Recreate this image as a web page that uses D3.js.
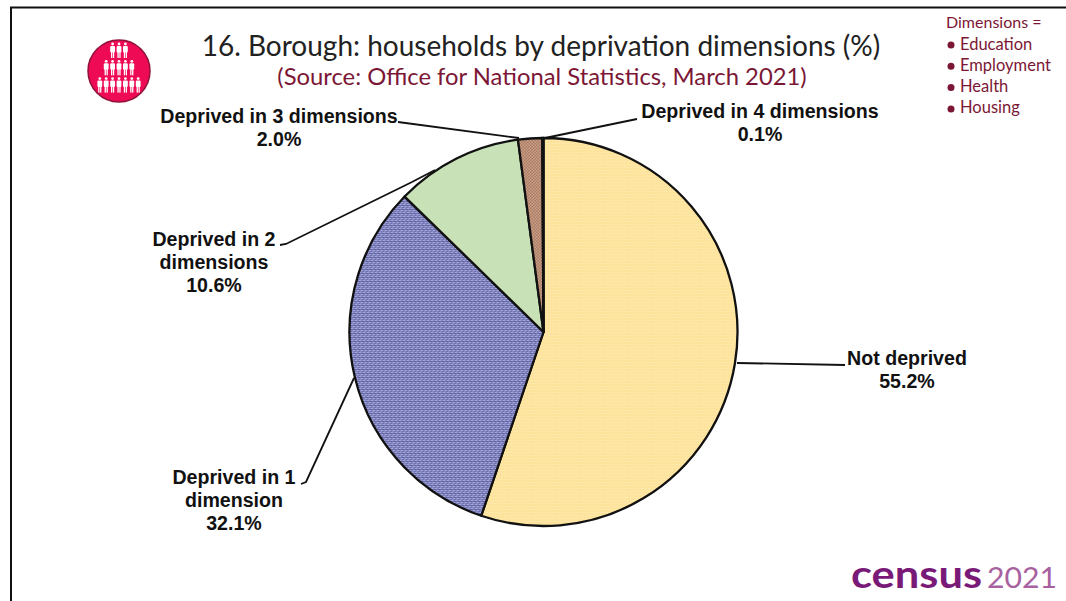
<!DOCTYPE html>
<html><head><meta charset="utf-8">
<script src="https://cdn.jsdelivr.net/npm/d3@7"></script>
<style>html,body{margin:0;padding:0;background:#fff}svg{display:block}</style></head>
<body><svg id="c" width="1066" height="601"></svg>
<script>
const categories=["Not deprived","Deprived in 1 dimension","Deprived in 2 dimensions","Deprived in 3 dimensions","Deprived in 4 dimensions"];
const values=[55.2,32.1,10.6,2.0,0.1];
const labelLines=[["Not deprived","55.2%"],["Deprived in 1","dimension","32.1%"],["Deprived in 2","dimensions","10.6%"],["Deprived in 3 dimensions","2.0%"],["Deprived in 4 dimensions","0.1%"]];
const labelX=[907,234,214,279,760];
const labelY=[364.5,484,246,122.5,117.5];
const leaders=[[[737,363],[845,365]],[[354,378],[306,482],[301,484]],[[435,170],[412,182],[286,244],[280,245]],[[519,138],[398,122]],[[545,138],[637,119]]];
const dimensions=["Education","Employment","Health","Housing"];
const iconRows=[3,5,7];
const wine="#7b1735";
const svg=d3.select("#c");
const defs=svg.append("defs");
function pat(id,bg,size,cells){
  const p=defs.append("pattern").attr("id",id).attr("width",size).attr("height",size).attr("patternUnits","userSpaceOnUse");
  p.append("rect").attr("width",size).attr("height",size).attr("fill",bg);
  cells.forEach(([x,y,w,c])=>p.append("rect").attr("x",x).attr("y",y).attr("width",w).attr("height",w).attr("fill",c));
}
pat("p0","#fee39c",3,[[0,0,1,"#fff0c4"]]);
pat("p1","#8487c0",4,[[0,0,1,"#c4c6ea"],[2,2,1,"#c4c6ea"],[1,1,1,"#5a5da3"],[3,3,1,"#5a5da3"],[3,1,1,"#3a3c88"]]);
pat("p2","#c8e1b6",3,[]);
pat("p3","#d8b29a",3,[[0,0,1.5,"#9a6850"],[1.5,1.5,1.5,"#9a6850"]]);
pat("p4","#c9c9c9",3,[]);

// frame
svg.append("path").attr("d","M11 601V7.5H1066").attr("fill","none").attr("stroke","#111").attr("stroke-width",2);

// pie
const cx=543.5,cy=332,R=194;
const pie=d3.pie().sort(null).startAngle(0).endAngle(2*Math.PI).value(d=>d);
const arc=d3.arc().innerRadius(0).outerRadius(R);
const g=svg.append("g").attr("transform",`translate(${cx},${cy})`);
g.selectAll("path").data(pie(values)).join("path").attr("d",arc)
  .attr("fill",(d,i)=>`url(#p${i})`).attr("stroke","#111").attr("stroke-width",2.3).attr("stroke-linejoin","round");

// leaders
const line=d3.line();
svg.append("g").selectAll("path").data(leaders).join("path").attr("d",line).attr("fill","none").attr("stroke","#111").attr("stroke-width",1.8);

// labels
categories.forEach((c,i)=>{
  const t=svg.append("text").attr("text-anchor","middle").attr("font-family","'Liberation Sans',Arial,sans-serif")
    .attr("font-weight","bold").attr("font-size",19.6).attr("fill","#111");
  labelLines[i].forEach((l,j)=>t.append("tspan").attr("x",labelX[i]).attr("y",labelY[i]+j*23.2).text(l));
});

// titles
svg.append("text").attr("x",541).attr("y",55.5).attr("text-anchor","middle").attr("font-family","Lato,sans-serif").attr("font-size",28).attr("fill","#222").text("16. Borough: households by deprivation dimensions (%)");
svg.append("text").attr("x",542).attr("y",85).attr("text-anchor","middle").attr("font-family","Lato,sans-serif").attr("font-size",23.8).attr("fill",wine).text("(Source: Office for National Statistics, March 2021)");

// dimensions list
const lf="Lato,sans-serif";
svg.append("text").attr("x",946).attr("y",28).attr("font-family",lf).attr("font-size",16).attr("fill",wine).text("Dimensions =");
dimensions.forEach((d,i)=>{
  const y=49.5+i*21.3;
  svg.append("circle").attr("cx",951).attr("cy",y-4.5).attr("r",3.5).attr("fill",wine);
  svg.append("text").attr("x",960).attr("y",y).attr("font-family",lf).attr("font-size",16.5).attr("fill",wine).text(d);
});

// icon
const icon=svg.append("g");
icon.append("circle").attr("cx",119).attr("cy",71).attr("r",31).attr("fill","#ee0a55").attr("stroke","#8e1238").attr("stroke-width",1.5);
iconRows.forEach((n,r)=>{
  const y=44+r*17.3;
  d3.range(n).forEach(k=>{
    const x=119+(k-(n-1)/2)*6.4;
    const p=icon.append("g").attr("transform",`translate(${x},${y})`).attr("fill","#fff");
    p.append("circle").attr("cx",0).attr("cy",0).attr("r",1.4);
    p.append("rect").attr("x",-2.4).attr("y",2).attr("width",4.8).attr("height",6.5).attr("rx",1);
    p.append("rect").attr("x",-1.6).attr("y",8).attr("width",1.3).attr("height",6);
    p.append("rect").attr("x",0.3).attr("y",8).attr("width",1.3).attr("height",6);
  });
});

// census logo
svg.append("text").attr("x",851).attr("y",588).attr("font-family","Lato,sans-serif").attr("font-weight","700").attr("font-size",39).attr("textLength",131).attr("lengthAdjust","spacingAndGlyphs").attr("fill","#7a1a78").text("census");
svg.append("text").attr("x",987).attr("y",588).attr("font-family","Lato,sans-serif").attr("font-size",28).attr("textLength",70).attr("lengthAdjust","spacingAndGlyphs").attr("fill","#a8619f").text("2021");
</script></body></html>
